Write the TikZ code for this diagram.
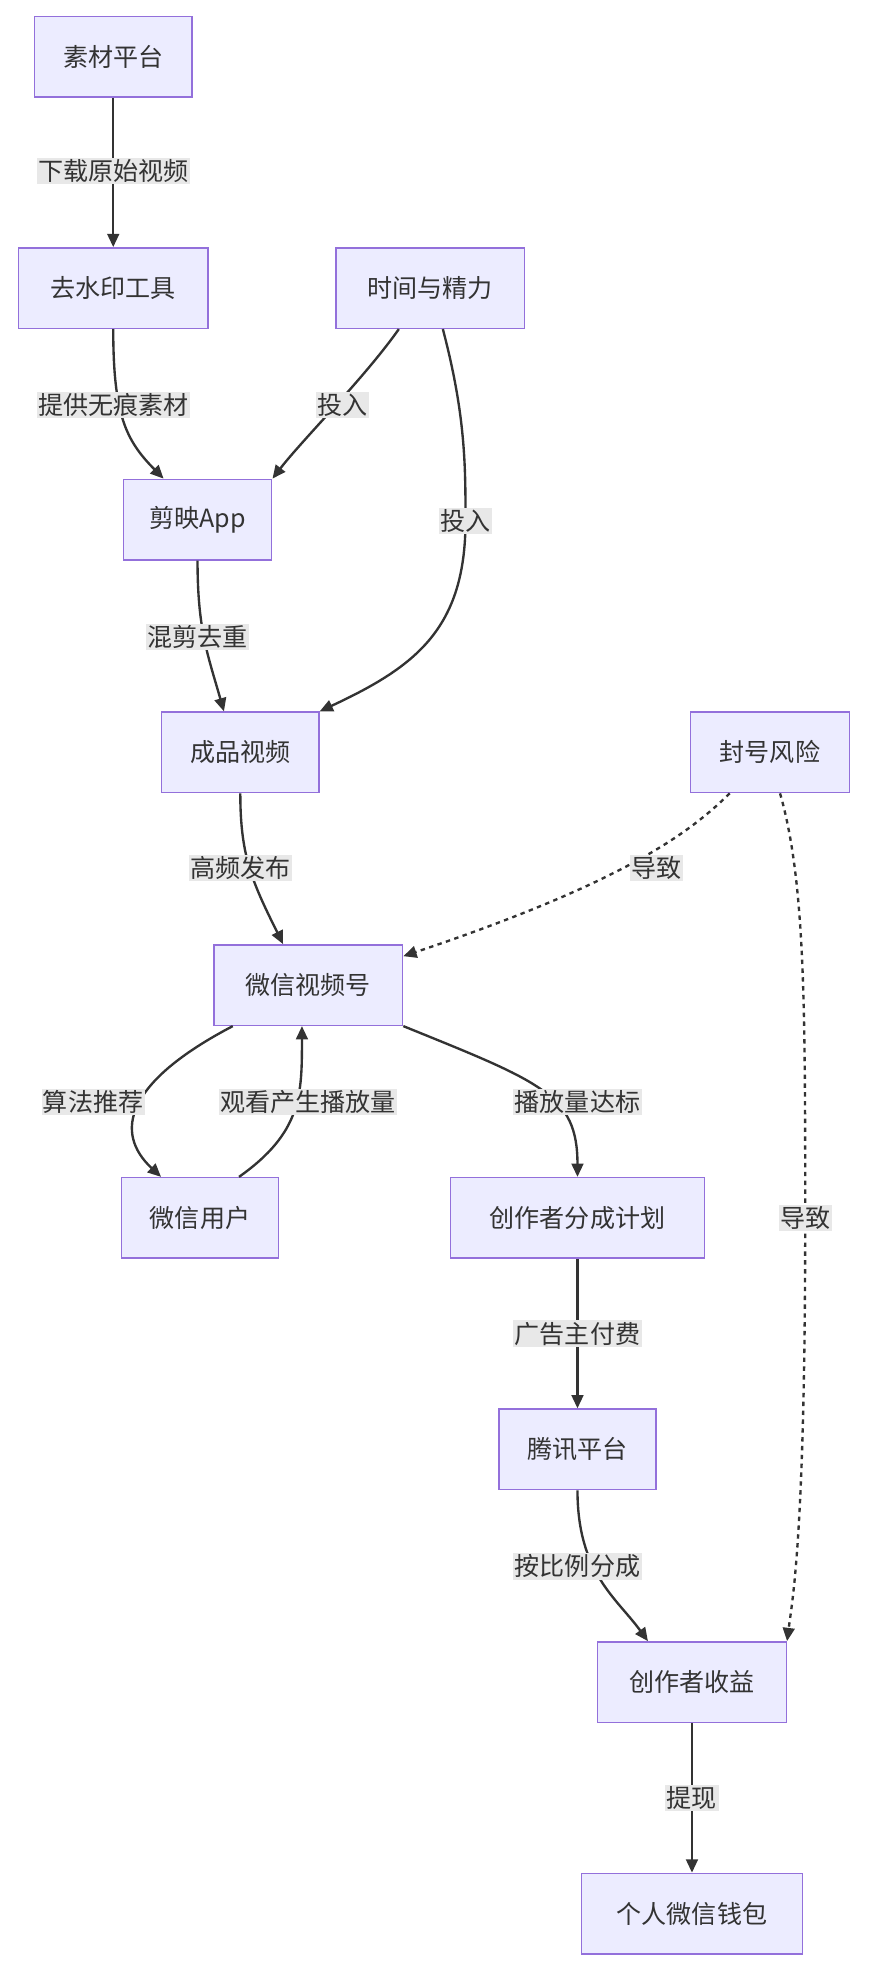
\documentclass[tikz,border=0pt]{standalone}
\usepackage{fontspec}
\setmainfont{Noto Sans CJK SC}
\usetikzlibrary{arrows.meta}
\definecolor{boxfill}{HTML}{ECECFF}
\definecolor{boxline}{HTML}{9370DB}
\definecolor{edgecol}{HTML}{333333}
\definecolor{labfill}{HTML}{E8E8E8}

\tikzset{
 box/.style={draw=boxline,fill=boxfill,line width=1pt,minimum height=64*0.03cm,inner xsep=10pt,font=\fontsize{17}{20}\selectfont,text=edgecol},
 lab/.style={fill=labfill,inner sep=1pt,font=\fontsize{17}{20}\selectfont,text=edgecol},
 edge/.style={draw=edgecol,line width=1.6pt,-{Triangle[length=9pt,width=8pt]}},
 risk/.style={edge,dash pattern=on 3pt off 3pt}
}

\begin{document}
\begin{tikzpicture}[x=0.03cm,y=-0.03cm]
\useasboundingbox (0,0) rectangle (690,1569);

\node[box,minimum width=125*0.03cm] (src) at (90,45) {素材平台};
\node[box,minimum width=151*0.03cm] (wm) at (90,229) {去水印工具};
\node[box,minimum width=150*0.03cm] (time) at (342,229) {时间与精力};
\node[box,minimum width=118*0.03cm] (cut) at (157,413) {剪映App};
\node[box,minimum width=125*0.03cm] (video) at (191,598) {成品视频};
\node[box,minimum width=126*0.03cm] (ban) at (612,598) {封号风险};
\node[box,minimum width=150*0.03cm] (chan) at (245,783) {微信视频号};
\node[box,minimum width=125*0.03cm] (user) at (159,968) {微信用户};
\node[box,minimum width=202*0.03cm] (plan) at (459,968) {创作者分成计划};
\node[box,minimum width=125*0.03cm] (tx) at (459,1152) {腾讯平台};
\node[box,minimum width=150*0.03cm] (gain) at (550,1337) {创作者收益};
\node[box,minimum width=176*0.03cm] (wallet) at (550,1521) {个人微信钱包};

% connectors
\draw[edge] (src) -- (wm);
\draw[edge] (wm.south) .. controls (90,330) and (100,350) .. (cut.north west -| 130,0);
\draw[edge] (time.south) ++(-25,0) .. controls (290,300) and (240,350) .. (cut.north east);
\draw[edge] (time.south) ++(10,0) .. controls (370,330) and (370,370) .. (370,414)
  .. controls (370,500) and (330,530) .. (video.north east);
\draw[edge] (cut.south) .. controls (157,500) and (165,520) .. (video.north -| 178,0);
\draw[edge] (video.south) .. controls (191,680) and (200,700) .. (chan.north -| 225,0);
\draw[risk] (ban.south) ++(-32,0) .. controls (550,660) and (500,700) .. (chan.east |- 0,760);
\draw[risk] (ban.south) ++(8,0) .. controls (640,700) and (640,800) .. (640,968)
  .. controls (640,1220) and (630,1270) .. (gain.north east);
\draw[edge] (chan.south) ++(-60,0) .. controls (100,860) and (90,900) .. (user.north -| 128,0);
\draw[edge] (user.north) ++(31,0) .. controls (240,900) and (240,870) .. (chan.south -| 240,0);
\draw[edge] (chan.south east) .. controls (430,860) and (459,870) .. (plan.north);
\draw[edge] (plan) -- (tx);
\draw[edge] (tx.south) .. controls (459,1250) and (490,1270) .. (gain.north -| 515,0);
\draw[edge] (gain) -- (wallet);

% labels
\node[lab] (l1) at (90,136) {下载原始视频};
\node[lab] (l2) at (90,322) {提供无痕素材};
\node[lab] (l3) at (272,322) {投入};
\node[lab] (l4) at (370,414) {投入};
\node[lab] (l5) at (157,506) {混剪去重};
\node[lab] (l6) at (191,690) {高频发布};
\node[lab] (l7) at (522,690) {导致};
\node[lab] (l8) at (74,876) {算法推荐};
\node[lab] (l9) at (245,876) {观看产生播放量};
\node[lab] (l10) at (459,876) {播放量达标};
\node[lab] (l11) at (640,968) {导致};
\node[lab] (l12) at (459,1060) {广告主付费};
\node[lab] (l13) at (459,1245) {按比例分成};
\node[lab] (l14) at (550,1429) {提现};
\end{tikzpicture}
\end{document}
